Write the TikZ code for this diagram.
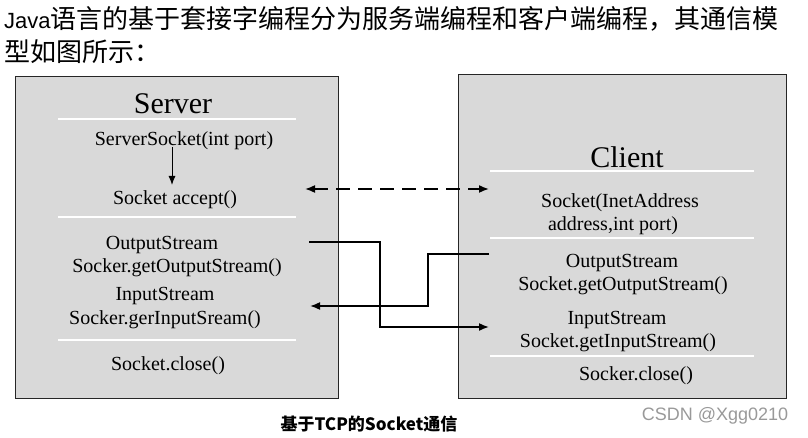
\documentclass[tikz,border=0pt]{standalone}
\usepackage{fontspec}
\setmainfont{Liberation Serif}
\newfontfamily\cjkfont{Noto Sans CJK SC}
\newfontfamily\latinsans{Liberation Sans}
\usetikzlibrary{arrows.meta,positioning}
\definecolor{boxgray}{HTML}{D9D9D9}
\tikzset{
  panel/.style={draw=black!85, line width=1.3pt, fill=boxgray, inner sep=0pt},
  sep/.style={draw=white, line width=1.5pt},
  call/.style={font=\fontsize{20}{23}\selectfont, inner sep=1pt, yshift=-3pt},
  heading/.style={font=\fontsize{30}{34}\selectfont, inner sep=1pt},
  link/.style={line width=1.6pt, -{Latex[length=10pt,width=8pt]}},
}

\begin{document}
\begin{tikzpicture}[x=1pt,y=-1pt]
\useasboundingbox (0,0) rectangle (808,438);
% intro text
\node[anchor=west, inner sep=0pt] (intro1) at (4,19)
  {\fontsize{22}{26}\selectfont\latinsans Java\fontsize{26}{30}\selectfont\cjkfont 语言的基于套接字编程分为服务端编程和客户端编程，其通信模};
\node[anchor=west, inner sep=0pt] (intro2) at (4,52)
  {\fontsize{26}{30}\selectfont\cjkfont 型如图所示：};
% the two boxes
\node[panel, minimum width=323pt, minimum height=322pt, anchor=north west] (server) at (15,76) {};
\node[panel, minimum width=328pt, minimum height=324pt, anchor=north west] (client) at (458,74) {};
% server side
\node[heading] (srvname) at (173,104) {Server};
\draw[sep] (58,119) -- (296,119);
\node[call] (srvsock) at (184,138) {ServerSocket(int port)};
\node[call] (accept) at (175,197) {Socket accept()};
\draw[line width=1pt, -{Latex[length=9pt,width=7pt]}] (172,147) -- (172,185);
\draw[sep] (58,217) -- (296,217);
\node[call] (srvout) at (162,242) {OutputStream};
\node[call] (srvgetout) at (177,265) {Socker.getOutputStream()};
\node[call] (srvin) at (165,293) {InputStream};
\node[call] (srvgetin) at (165,317) {Socker.gerInputSream()};
\draw[sep] (58,340) -- (296,340);
\node[call] (srvclose) at (168,363) {Socket.close()};
% client side
\node[heading] (cliname) at (627,157) {Client};
\draw[sep] (490,171) -- (754,171);
\node[call] (clisock) at (620,200) {Socket(InetAddress};
\node[call] (cliaddr) at (613,223) {address,int port)};
\draw[sep] (490,238) -- (754,238);
\node[call] (cliout) at (622,260) {OutputStream};
\node[call] (cligetout) at (623,283) {Socket.getOutputStream()};
\node[call] (cliin) at (617,317) {InputStream};
\node[call] (cligetin) at (618,340) {Socket.getInputStream()};
\draw[sep] (490,356) -- (754,356);
\node[call] (cliclose) at (636,373) {Socker.close()};
% connectors
\coordinate (acc-end) at (305,189);
\coordinate (conn-end) at (489,189);
\coordinate (srvout-end) at (309,242);
\coordinate (cliin-end) at (489,327);
\coordinate (cliout-end) at (489,254);
\coordinate (srvin-end) at (310,306);
\draw[link, {Latex[length=10pt,width=8pt]}-{Latex[length=10pt,width=8pt]}, dash pattern=on 14pt off 8pt] (acc-end) -- (conn-end);
\draw[link] (srvout-end) -- ++(71,0) |- (cliin-end);
\draw[link] (cliout-end) -- ++(-61,0) |- (srvin-end);
% caption
\node[font=\fontsize{17}{20}\selectfont\cjkfont\bfseries] (caption) at (369,424) {基于TCP的Socket通信};
\node[font=\fontsize{18}{20}\selectfont\latinsans, text=black!40] (mark) at (715,416) {CSDN @Xgg0210};
\end{tikzpicture}
\end{document}
